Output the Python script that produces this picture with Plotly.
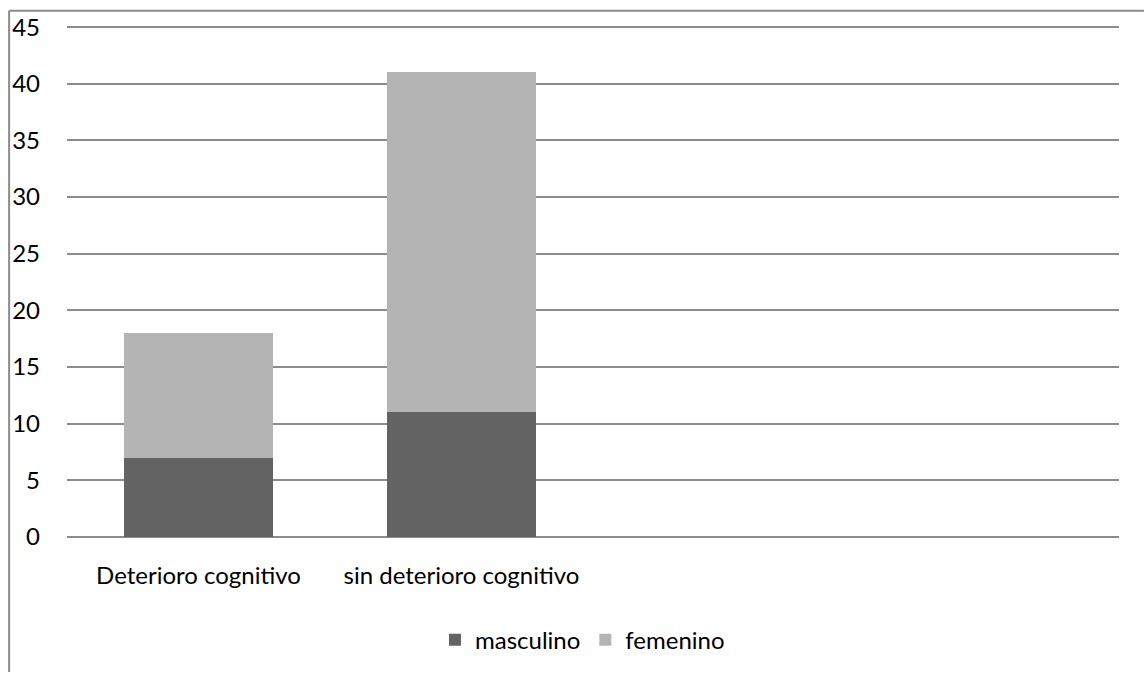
import plotly.graph_objects as go

categories = ["Deterioro cognitivo", "sin deterioro cognitivo", " ", "  "]
masculino = [7, 11, None, None]
femenino = [11, 30, None, None]
y_ticks = [0, 5, 10, 15, 20, 25, 30, 35, 40, 45]

FONT = "Lato"
FS = 24
fig = go.Figure()
fig.add_trace(go.Bar(name="masculino", x=categories, y=masculino,
                     marker=dict(color="#636363", line=dict(width=0))))
fig.add_trace(go.Bar(name="femenino", x=categories, y=femenino,
                     marker=dict(color="#b4b4b4", line=dict(width=0))))

YMAX = 45.1
L, R, B = 65, 25, 135.3
W, H = 1144, 674
unit = (H - B - 27.5) / 45.0
T = 27.5 - (YMAX - 45) * unit
pw, ph = W - L - R, H - T - B

def px2paper(x, y):
    return (x - L) / pw, (H - B - y) / ph

x0, y0 = px2paper(7, 11)
x1, _ = px2paper(1144, 11)
_, y1 = px2paper(7, 674)
fig.add_shape(type="line", xref="paper", yref="paper", x0=x0, y0=y0, x1=x1, y1=y0,
              line=dict(color="#8c8c8c", width=2))
fig.add_shape(type="line", xref="paper", yref="paper", x0=x0, y0=y0, x1=x0, y1=y1,
              line=dict(color="#8c8c8c", width=2))

_, ly = px2paper(0, 642)
fig.update_layout(
    barmode="stack", bargap=0.43,
    width=W, height=H,
    margin=dict(l=L, r=R, t=T, b=B),
    paper_bgcolor="white", plot_bgcolor="white",
    font=dict(family=FONT, size=FS, color="#000000"),
    showlegend=True,
    legend=dict(orientation="h", x=0.49, xanchor="center", y=ly, yanchor="middle",
                font=dict(family=FONT, size=FS), traceorder="normal"),
    xaxis=dict(type="category", categoryorder="array", categoryarray=categories,
               showgrid=False, showline=False, ticks="", ticklabelstandoff=22,
               tickfont=dict(family=FONT, size=FS)),
    yaxis=dict(range=[0, YMAX], tickvals=y_ticks, showgrid=True, gridcolor="#8c8c8c",
               gridwidth=1.5, zeroline=True, zerolinecolor="#8c8c8c", zerolinewidth=1.5,
               showline=False, ticks="", ticklabelstandoff=26,
               tickfont=dict(family=FONT, size=FS)),
)
fig.write_html("out.html", config={"displayModeBar": False},
               post_script="document.body.style.margin='0';document.body.style.overflow='hidden';")
